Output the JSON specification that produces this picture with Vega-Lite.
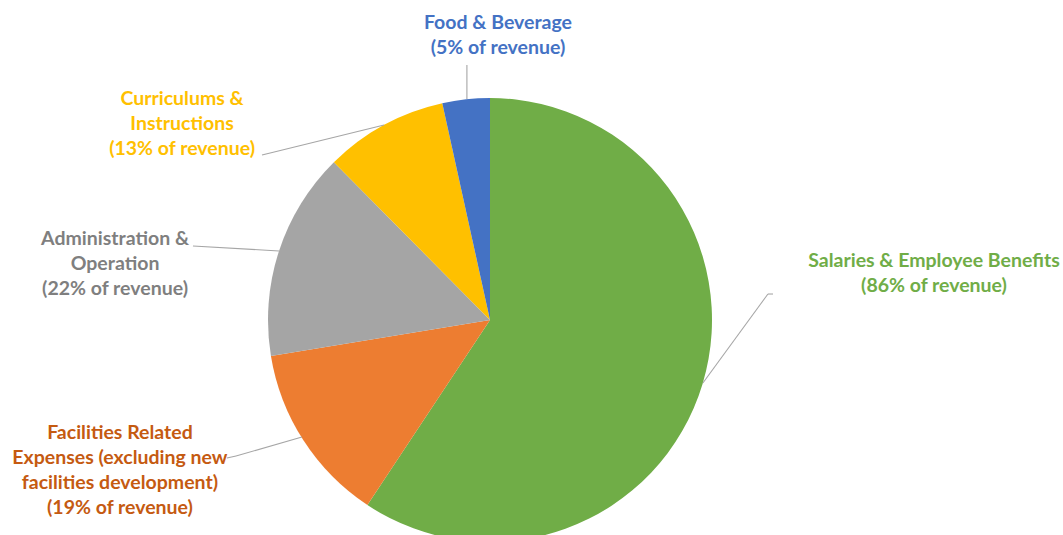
{
  "$schema": "https://vega.github.io/schema/vega-lite/v6.json",
  "width": 1063,
  "height": 535,
  "padding": 0,
  "autosize": "none",
  "background": "white",
  "config": {"view": {"stroke": null}, "axis": {"disable": true}},
  "datasets": {
    "costs": [
      {"category": "Salaries & Employee Benefits", "pct": 86},
      {"category": "Facilities Related Expenses", "pct": 19},
      {"category": "Administration & Operation", "pct": 22},
      {"category": "Curriculums & Instructions", "pct": 13},
      {"category": "Food & Beverage", "pct": 5}
    ],
    "labels": [
      {"category": "Salaries & Employee Benefits", "text": ["Salaries & Employee Benefits", "(86% of revenue)"], "u": 2.0, "v": 0.266},
      {"category": "Facilities Related Expenses", "text": ["Facilities Related", "Expenses (excluding new", "facilities development)", "(19% of revenue)"], "u": -1.667, "v": -0.509},
      {"category": "Administration & Operation", "text": ["Administration &", "Operation", "(22% of revenue)"], "u": -1.689, "v": 0.365},
      {"category": "Curriculums & Instructions", "text": ["Curriculums &", "Instructions", "(13% of revenue)"], "u": -1.387, "v": 0.995},
      {"category": "Food & Beverage", "text": ["Food & Beverage", "(5% of revenue)"], "u": 0.036, "v": 1.338}
    ],
    "leaders": [
      {"category": "Food & Beverage", "u": -0.104, "v": 1.149, "u2": -0.104, "v2": 0.995},
      {"category": "Curriculums & Instructions", "u": -1.027, "v": 0.743, "u2": -0.477, "v2": 0.878},
      {"category": "Administration & Operation", "u": -1.338, "v": 0.333, "u2": -0.95, "v2": 0.311},
      {"category": "Facilities Related Expenses", "u": -1.185, "v": -0.622, "u2": -1.144, "v2": -0.613},
      {"category": "Facilities Related Expenses", "u": -1.144, "v": -0.613, "u2": -0.847, "v2": -0.527},
      {"category": "Salaries & Employee Benefits", "u": 1.275, "v": 0.117, "u2": 1.252, "v2": 0.117},
      {"category": "Salaries & Employee Benefits", "u": 1.252, "v": 0.117, "u2": 0.959, "v2": -0.284}
    ]
  },
  "layer": [
    {
      "data": {"name": "costs"},
      "transform": [
        {"window": [{"op": "row_number", "as": "slice"}]}
      ],
      "mark": {"type": "arc", "outerRadius": 222},
      "encoding": {
        "x": {"datum": 0, "type": "quantitative", "scale": {"domain": [-2.2072, 2.5811], "nice": false, "zero": false}},
        "y": {"datum": 0, "type": "quantitative", "scale": {"domain": [-0.9685, 1.4414], "nice": false, "zero": false}},
        "theta": {"field": "pct", "type": "quantitative", "stack": true},
        "order": {"field": "slice", "type": "quantitative", "sort": "ascending"},
        "color": {
          "field": "category",
          "type": "nominal",
          "legend": null,
          "scale": {
            "domain": ["Salaries & Employee Benefits", "Facilities Related Expenses", "Administration & Operation", "Curriculums & Instructions", "Food & Beverage"],
            "range": ["#70AD47", "#ED7D31", "#A5A5A5", "#FFC000", "#4472C4"]
          }
        }
      }
    },
    {
      "data": {"name": "leaders"},
      "mark": {"type": "rule", "color": "#A6A6A6", "strokeWidth": 1.1},
      "encoding": {
        "x": {"field": "u", "type": "quantitative", "scale": {"domain": [-2.2072, 2.5811], "nice": false, "zero": false}},
        "y": {"field": "v", "type": "quantitative", "scale": {"domain": [-0.9685, 1.4414], "nice": false, "zero": false}},
        "x2": {"field": "u2"},
        "y2": {"field": "v2"}
      }
    },
    {
      "data": {"name": "labels"},
      "mark": {"type": "text", "font": "Lato", "fontWeight": "bold", "fontSize": 19.5, "lineHeight": 25, "align": "center", "baseline": "middle"},
      "encoding": {
        "x": {"field": "u", "type": "quantitative", "scale": {"domain": [-2.2072, 2.5811], "nice": false, "zero": false}},
        "y": {"field": "v", "type": "quantitative", "scale": {"domain": [-0.9685, 1.4414], "nice": false, "zero": false}},
        "text": {"field": "text"},
        "color": {
          "field": "category",
          "type": "nominal",
          "legend": null,
          "scale": {
            "domain": ["Salaries & Employee Benefits", "Facilities Related Expenses", "Administration & Operation", "Curriculums & Instructions", "Food & Beverage"],
            "range": ["#70AD47", "#C55A11", "#7F7F7F", "#FFC000", "#4472C4"]
          }
        }
      }
    }
  ],
  "resolve": {"scale": {"color": "independent"}}
}
